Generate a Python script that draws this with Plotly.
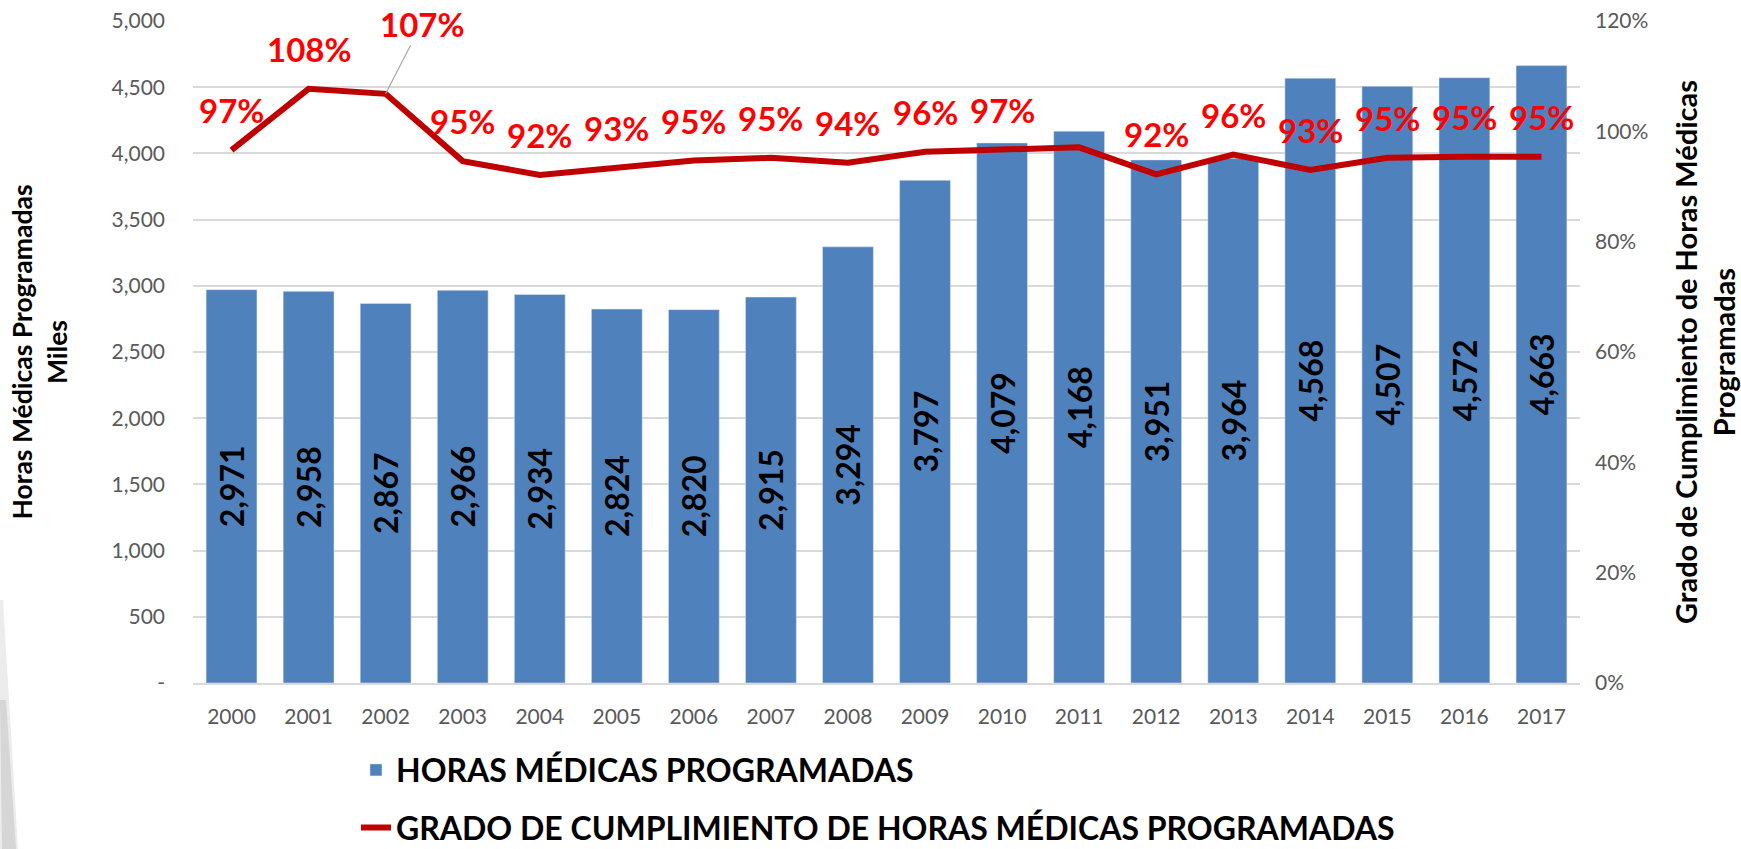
import plotly.graph_objects as go

years = [str(y) for y in range(2000, 2018)]
horas = [2971, 2958, 2867, 2966, 2934, 2824, 2820, 2915, 3294, 3797,
         4079, 4168, 3951, 3964, 4568, 4507, 4572, 4663]
grado = [0.966, 1.077, 1.068, 0.946, 0.921, 0.934, 0.947, 0.952, 0.943, 0.963,
         0.966, 0.971, 0.922, 0.958, 0.930, 0.952, 0.954, 0.954]
hidden_labels = ["2011"]
leader_label = "2002"

left_tickvals = [0, 500, 1000, 1500, 2000, 2500, 3000, 3500, 4000, 4500, 5000]
left_ticktext = ["-", "500", "1,000", "1,500", "2,000", "2,500", "3,000",
                 "3,500", "4,000", "4,500", "5,000"]
right_tickvals = [0, 0.2, 0.4, 0.6, 0.8, 1.0, 1.2]

FONT = "Lato"
TICK = dict(family=FONT, size=21, color="#595959")

# plot-area geometry (px) used to place the decorative swoosh in paper units
L, R, T, B, W, H = 193, 161, 21, 166, 1741, 849
PW, PH = W - L - R, H - T - B


def px(xp, yp):
    return (xp - L) / PW, (H - B - yp) / PH


fig = go.Figure()
fig.add_trace(go.Bar(
    x=years, y=horas, name="HORAS MÉDICAS PROGRAMADAS",
    marker=dict(color="#4f81bd"), width=0.66,
    texttemplate="%{y:,}", textposition="inside", insidetextanchor="middle",
    textangle=-90, constraintext="none",
    textfont=dict(family=FONT, size=32, color="black", weight="bold"),
    legendgroup="a",
))
fig.add_trace(go.Scatter(
    x=years, y=grado, yaxis="y2", mode="lines",
    name="GRADO DE CUMPLIMIENTO DE HORAS MÉDICAS PROGRAMADAS",
    line=dict(color="#c00000", width=6),
    legendgroup="b",
))

annotations = []
for i, (yr, v) in enumerate(zip(years, grado)):
    if yr in hidden_labels:
        continue
    common = dict(x=i, y=v, xref="x", yref="y2", text=f"{v:.0%}",
                  font=dict(family=FONT, size=33, color="#ff0000", weight="bold"))
    if yr == leader_label:
        annotations.append(dict(**common, showarrow=True, arrowhead=0,
                                arrowwidth=1.2, arrowcolor="#a6a6a6",
                                ax=36, ay=-70, standoff=0))
    else:
        annotations.append(dict(**common, showarrow=False, yanchor="middle",
                                yshift=40))

# faint grey swoosh of the slide background at the lower-left edge
p1 = [px(0, 600), px(3, 600), px(18, 849), px(0, 849)]
p2 = [px(0, 700), px(6, 700), px(16, 849), px(2, 849)]


def path(points):
    return "M " + " L ".join(f"{a:.5f},{b:.5f}" for a, b in points) + " Z"


fig.update_layout(
    width=W, height=H,
    margin=dict(l=L, r=R, t=T, b=B, autoexpand=False),
    paper_bgcolor="white", plot_bgcolor="white",
    font=dict(family=FONT),
    showlegend=True,
    legend=dict(
        orientation="v", x=0.1175, y=-0.09, xanchor="left", yanchor="top",
        font=dict(family=FONT, size=32, color="black", weight="bold"),
        traceorder="grouped", tracegroupgap=13,
        bgcolor="rgba(0,0,0,0)",
    ),
    xaxis=dict(
        type="category", range=[-0.5, len(years) - 0.5], autorange=False,
        tickfont=TICK, showgrid=False,
        showline=True, linecolor="#d9d9d9", linewidth=1.5,
        ticks="", ticklabelstandoff=14,
    ),
    yaxis=dict(
        range=[0, 5000], tickvals=left_tickvals, ticktext=left_ticktext,
        tickfont=TICK, showgrid=True, gridcolor="#d9d9d9", gridwidth=1.5,
        zeroline=False, ticks="", ticklabelstandoff=27,
        title=dict(text="Horas Médicas Programadas<br>Miles",
                   font=dict(family=FONT, size=26.5, color="black", weight="bold"),
                   standoff=36),
    ),
    yaxis2=dict(
        overlaying="y", side="right", range=[0, 1.2],
        tickvals=right_tickvals, tickformat=".0%", tickfont=TICK,
        showgrid=False, zeroline=False, ticks="", ticklabelstandoff=14,
        title=dict(text="Grado de Cumplimiento de Horas Médicas<br>Programadas",
                   font=dict(family=FONT, size=29, color="black", weight="bold"),
                   standoff=31),
    ),
    annotations=annotations,
    shapes=[
        dict(type="path", xref="paper", yref="paper", path=path(p1),
             fillcolor="#ececec", line=dict(width=0), layer="below"),
        dict(type="path", xref="paper", yref="paper", path=path(p2),
             fillcolor="#d6d6d6", line=dict(width=0), layer="below"),
    ],
)

fig.write_html("out.html", config={"displayModeBar": False},
               post_script="document.body.style.margin='0';")
